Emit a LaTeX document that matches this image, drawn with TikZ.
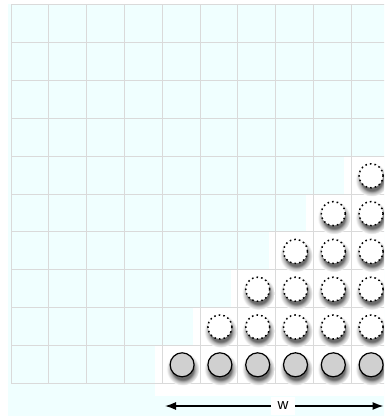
\documentclass[tikz,border=0pt]{standalone}
\usepackage{fontspec}
\setmainfont{Liberation Sans}
\usetikzlibrary{arrows.meta}
\definecolor{bgcyan}{RGB}{240,255,255}
\definecolor{gridgray}{RGB}{218,218,218}
\definecolor{coinfill}{RGB}{208,208,208}
\pgfdeclareradialshading{softshadow}{\pgfpoint{0bp}{0bp}}{%
  color(0bp)=(black!58); color(16bp)=(black!58); color(19bp)=(black!30);
  color(25bp)=(white); color(50bp)=(white)}
\begin{document}
\begin{tikzpicture}[x=1pt,y=-1pt,
  coin/.style={circle,draw=black,line width=1.2pt,minimum size=24pt,inner sep=0pt,fill=coinfill},
  ghost/.style={circle,draw=black,line width=1.5pt,dash pattern=on 1.6pt off 3pt,minimum size=24pt,inner sep=0pt,fill=white},
  shadowdisc/.style={shading=softshadow},
  gridline/.style={draw=gridgray,line width=1pt},
  dim/.style={line width=1.3pt,{Latex[length=11pt,width=8pt]}-{Latex[length=11pt,width=8pt]}},
  lab/.style={fill=white,font=\fontsize{15}{15}\selectfont,minimum width=24pt,minimum height=18pt,inner sep=0pt}]
\useasboundingbox (0,0) rectangle (384,420);
\clip (0,0) rectangle (384,420);
\fill[bgcyan] (8,4) rectangle (390,416);
% white staircase behind the coins
\foreach \r/\c in {9/4,8/5,7/6,6/7,5/8,4/9}
  \fill[white] ({11+37.8*\c-7},{5+37.8*\r}) rectangle (390,{5+37.8*\r+37.8+13});
% grid
\foreach \i in {0,...,10}
  \draw[gridline] ({11+37.8*\i},5) -- ({11+37.8*\i},383);
\foreach \j in {0,...,10}
  \draw[gridline] (11,{5+37.8*\j}) -- (390,{5+37.8*\j});
% soft shadows
\foreach \r in {4,...,9}{
  \pgfmathtruncatemacro{\cs}{13-\r}
  \foreach \c in {\cs,...,9}
    \shade[shadowdisc] ({11+37.8*\c+20.6},{5+37.8*\r+23.8}) circle (16.5);
}
% bottom row of coins
\foreach \c in {4,...,9}
  \node[coin] (b\c) at ({11+37.8*\c+19.9},{5+37.8*9+19.6}) {};
% dashed coins
\foreach \r in {4,...,8}{
  \pgfmathtruncatemacro{\cs}{13-\r}
  \foreach \c in {\cs,...,9}
    \node[ghost] (g\r\c) at ({11+37.8*\c+19.9},{5+37.8*\r+19.6}) {};
}
% width arrow
\coordinate (wl) at (165,406);
\coordinate (wr) at (383.5,406);
\draw[dim] (wl) -- (wr);
\node[lab] (wlab) at (283,406) {w};
\end{tikzpicture}
\end{document}
